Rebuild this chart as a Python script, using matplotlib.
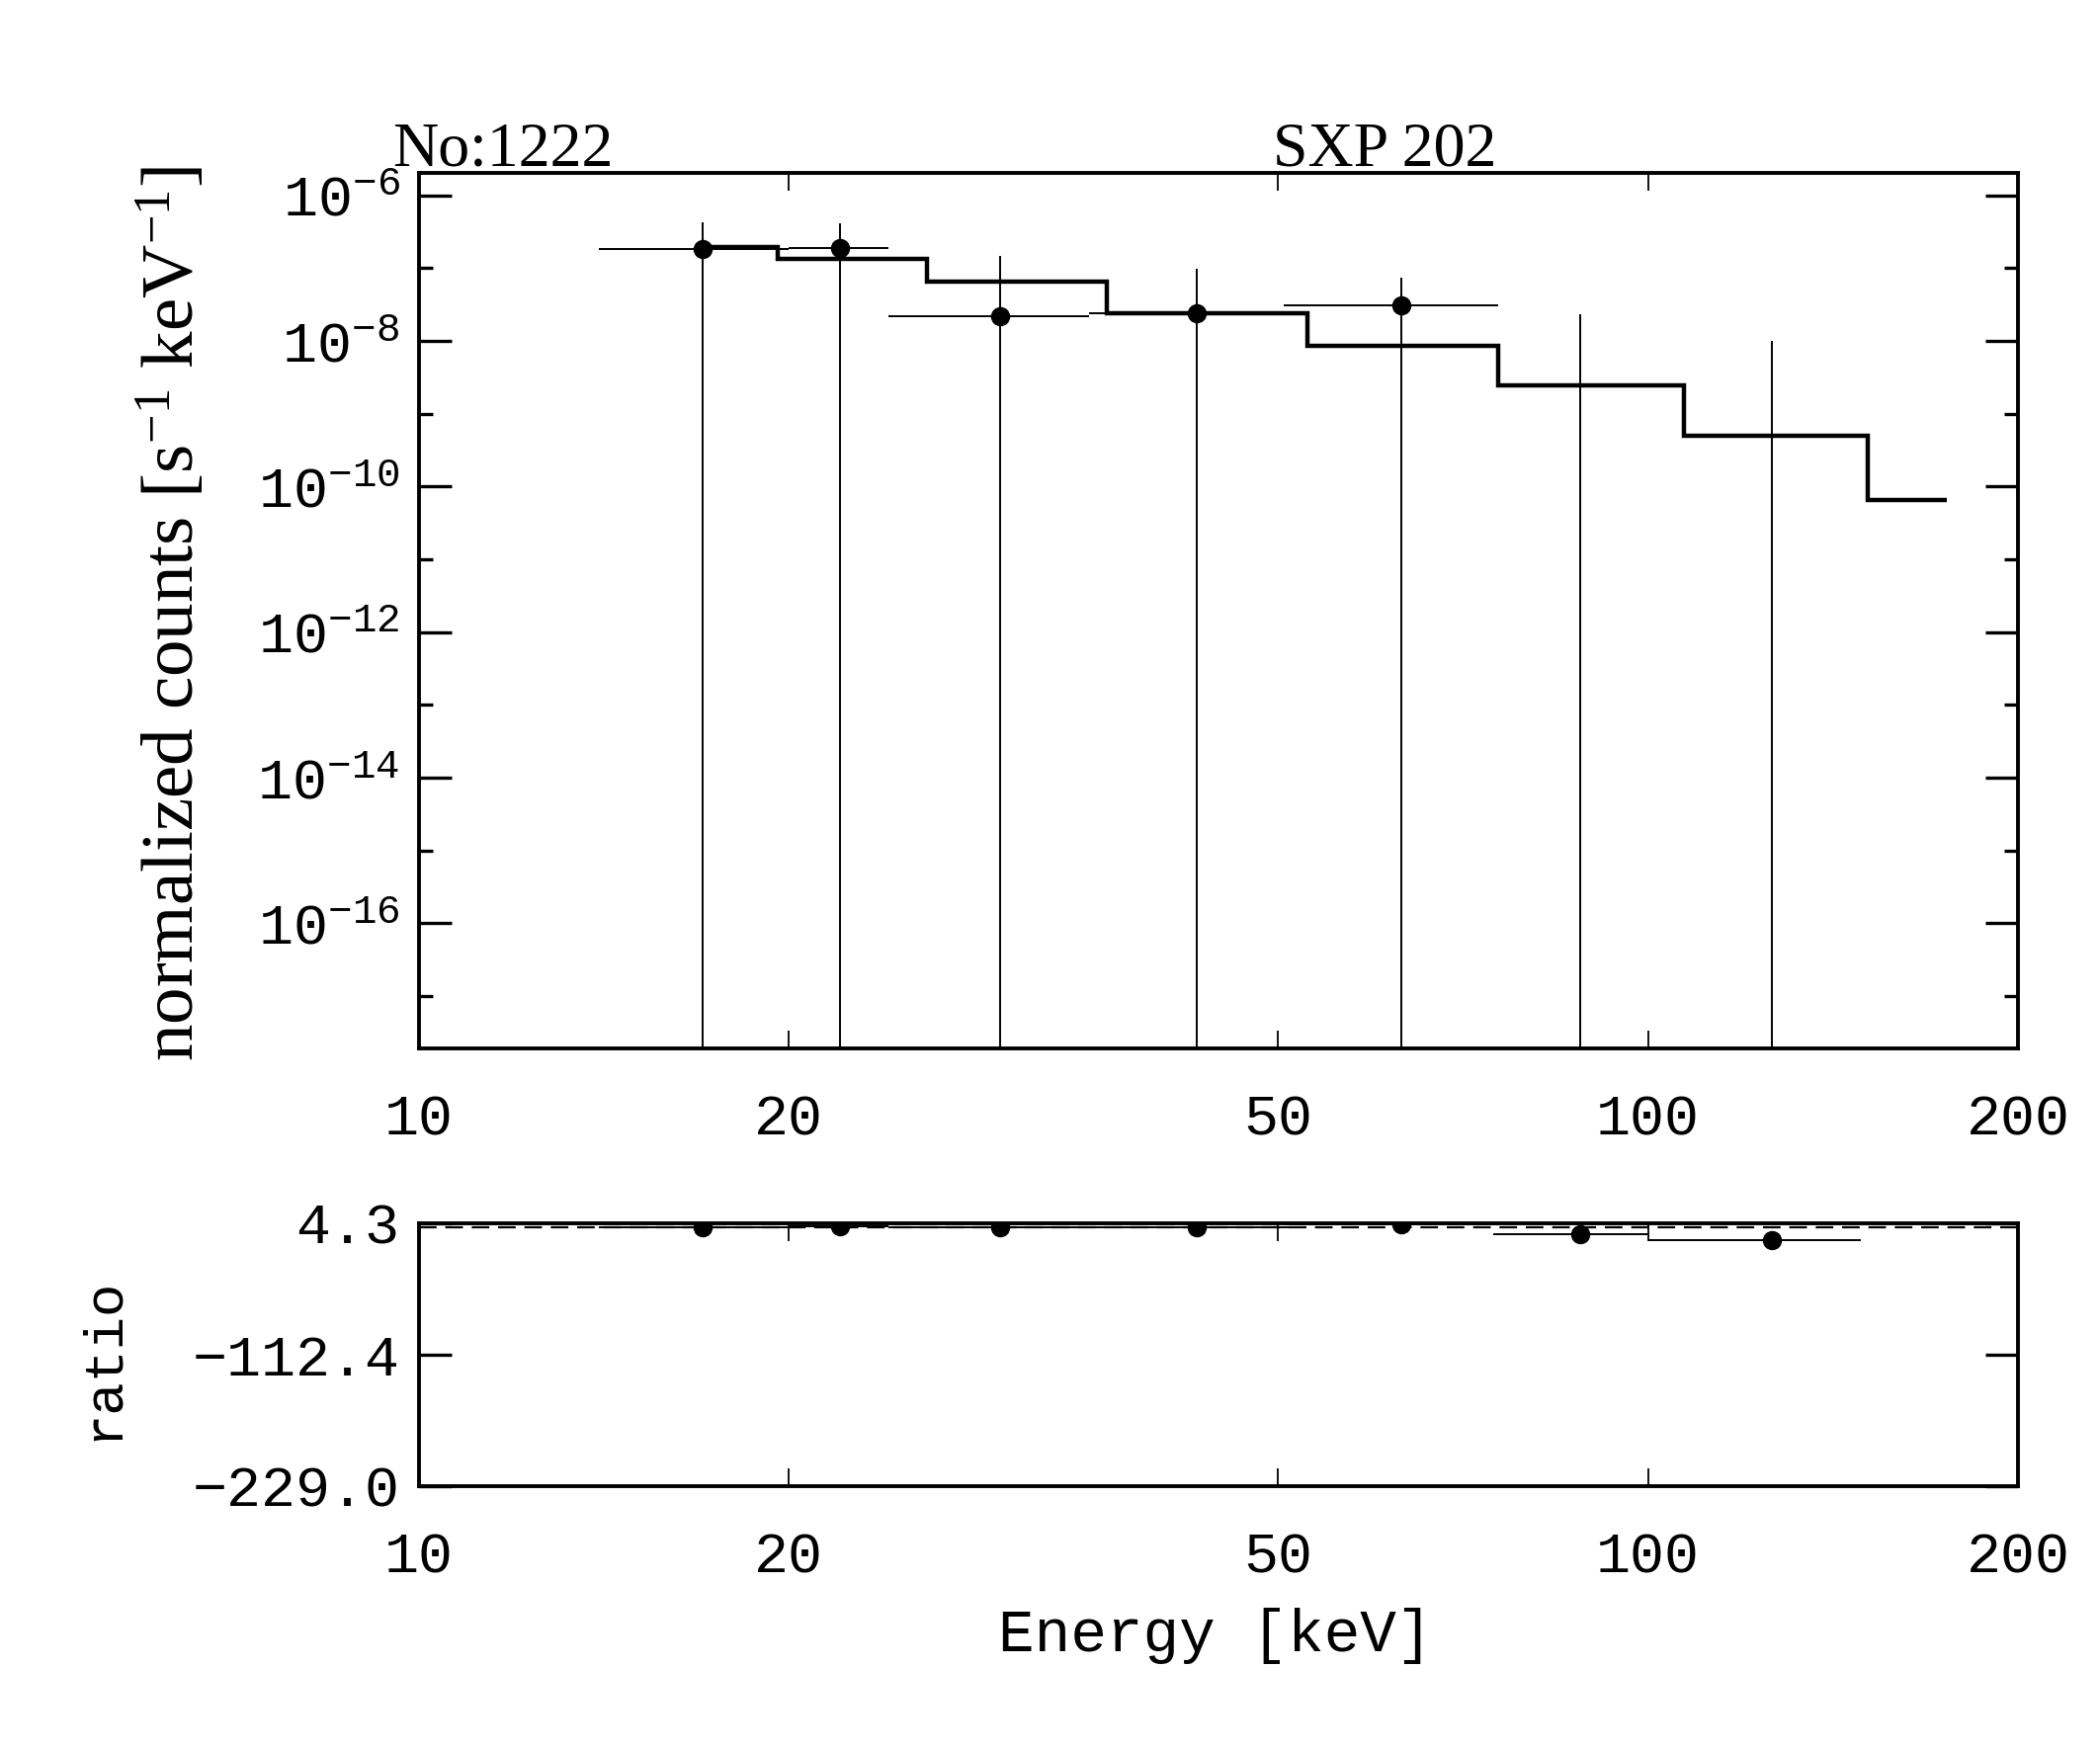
import math
import matplotlib
matplotlib.use("Agg")
import matplotlib.pyplot as plt
from matplotlib.ticker import FixedLocator, NullLocator, FuncFormatter

plt.rcParams['font.family'] = ['Liberation Mono', 'DejaVu Sans Mono']
plt.rcParams['mathtext.default'] = 'regular'

# data points (keV) and bin edges
energy = [17.0, 22.0, 29.7, 42.9, 63.0, 88.0, 126.0]
e_lo = [14.0, 20.0, 24.1, 35.1, 50.5, 74.8, 100.0]
e_hi = [20.0, 24.1, 35.1, 52.7, 75.5, 100.0, 149.0]

# normalized counts, first five positive, last two only upper bounds shown
counts = [1.85e-7, 1.89e-7, 2.22e-8, 2.44e-8, 3.13e-8]
counts_hi = [4.27e-7, 4.13e-7, 1.46e-7, 9.84e-8, 7.4e-8, 2.34e-8, 1.0e-8]

# model histogram
model_edges = [17.0, 19.6, 25.9, 36.3, 52.8, 75.5, 107.0, 151.0, 175.0]
model_vals = [1.95e-7, 1.36e-7, 6.55e-8, 2.41e-8, 8.7e-9, 2.44e-9, 5.0e-10, 6.6e-11]

# ratio data / model
ratio = [0.95, 1.39, 0.34, 1.01, 3.6, -5.5, -11.0]
ratio_ticks = [4.3, -112.4, -229.0]
ratio_labels = ['4.3', '\u2212112.4', '\u2212229.0']

xticks = [10, 20, 50, 100, 200]

fig = plt.figure(figsize=(21.25, 17.71), dpi=100)
ax1 = fig.add_axes([0.1995, 0.4009, 0.7615, 0.5003])
ax2 = fig.add_axes([0.1995, 0.1508, 0.7615, 0.1502])

xerr = [[e - l for e, l in zip(energy, e_lo)], [h - e for e, h in zip(energy, e_hi)]]

# top panel
n = len(counts)
ax1.errorbar(energy[:n], counts[:n],
             xerr=[xerr[0][:n], xerr[1][:n]],
             yerr=[counts, [h - c for h, c in zip(counts_hi[:n], counts)]],
             fmt='o', ms=13, color='k', ecolor='k', elinewidth=1.4, capsize=0)
ax1.vlines(energy[n:], 1e-30, counts_hi[n:], color='k', lw=1.4)
ax1.stairs(model_vals, model_edges, baseline=None, color='k', lw=3.2)

ax1.set_xscale('log')
ax1.set_yscale('log')
ax1.set_xlim(10, 200)
ax1.set_ylim(10 ** -17.72, 10 ** -5.69)

ax1.yaxis.set_major_locator(FixedLocator([10.0 ** k for k in range(-16, -5, 2)]))
ax1.yaxis.set_minor_locator(FixedLocator([10.0 ** k for k in range(-17, -6, 2)]))
ax1.yaxis.set_major_formatter(FuncFormatter(
    lambda v, p: r'$\mathregular{10^{%d}}$' % round(math.log10(v))))
ax1.yaxis.set_minor_formatter(FuncFormatter(lambda v, p: ''))

# ratio panel
ax2.axhline(1.0, color='k', lw=1.6, ls=(0, (8, 4)))
ax2.errorbar(energy, ratio, xerr=xerr, fmt='o', ms=13, color='k',
             ecolor='k', elinewidth=1.4, capsize=0)
ax2.set_xscale('log')
ax2.set_xlim(10, 200)
ax2.set_ylim(ratio_ticks[-1], ratio_ticks[0])
ax2.set_yticks(ratio_ticks)
ax2.set_yticklabels(ratio_labels)

for ax in (ax1, ax2):
    ax.xaxis.set_major_locator(FixedLocator(xticks))
    ax.xaxis.set_minor_locator(NullLocator())
    ax.xaxis.set_major_formatter(FuncFormatter(lambda v, p: '%d' % v))
    ax.tick_params(axis='x', which='both', direction='in', top=True, bottom=True,
                   length=13, width=1.3, labelsize=42, pad=33)
    ax.tick_params(axis='y', which='major', direction='in', left=True, right=True,
                   length=24, width=2.4, labelsize=42, pad=14)
    ax.tick_params(axis='y', which='minor', direction='in', left=True, right=True,
                   length=10, width=2.4)
    for s in ax.spines.values():
        s.set_linewidth(2.8)

fig.text(397 / 2125, 1 - 167 / 1771, 'No:1222', ha='left', va='baseline',
         family='Liberation Serif', fontsize=46)
fig.text(1401 / 2125, 1 - 167 / 1771, 'SXP 202', ha='center', va='baseline',
         family='Liberation Serif', fontsize=46)
fig.text(176 / 2125, 1 - 621 / 1771,
         r'normalized counts [s$^{-1}$ keV$^{-1}$]', rotation=90,
         ha='center', va='center', family='Liberation Serif', fontsize=54)
fig.text(104 / 2125, 1 - 1375 / 1771, 'ratio', rotation=90,
         ha='center', va='center', fontsize=40)
fig.text(1230 / 2125, 1 - 1656 / 1771, 'Energy [keV]',
         ha='center', va='center', fontsize=44)

fig.savefig('out.png', dpi=100)
